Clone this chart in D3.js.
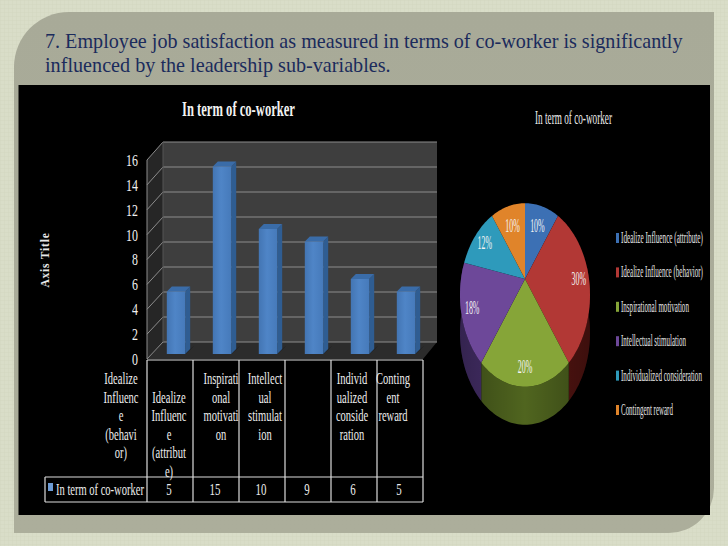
<!DOCTYPE html>
<html>
<head>
<meta charset="utf-8">
<script src="https://cdn.jsdelivr.net/npm/d3@7"></script>
<style>
html, body { margin: 0; padding: 0; background: #d8dcc6; }
svg { display: block; }
text { font-family: "Liberation Serif", serif; }
</style>
</head>
<body>
<script>
// chart data
var headingLines = [
    "7. Employee job satisfaction as measured in terms of co-worker is significantly",
    "influenced by the leadership sub-variables."
];
var barTitle = "In term of co-worker";
var axisTitle = "Axis Title";
var seriesName = "In term of co-worker";
var barValues = [5, 15, 10, 9, 6, 5];
var yTicks = [0, 2, 4, 6, 8, 10, 12, 14, 16];
// wrapped the way the table wraps them, 4th column has no label of its own
var columnLabels = [
    ["", "Idealize", "Influenc", "e", "(attribut", "e)"],
    ["Inspirati", "onal", "motivati", "on"],
    ["Intellect", "ual", "stimulat", "ion"],
    [],
    ["Individ", "ualized", "conside", "ration"],
    ["Conting", "ent", "reward"]
];
var strayLabel = ["Idealize", "Influenc", "e", "(behavi", "or)"];

var pieTitle = "In term of co-worker";
var pieNames = [
    "Idealize Influence (attribute)",
    "Idealize Influence (behavior)",
    "Inspirational motivation",
    "Intellectual stimulation",
    "Individualized consideration",
    "Contingent reward"
];
var pieValues = [10, 30, 20, 18, 12, 10];

// layout / colours
var pieColors = ["#3c70b4", "#b23835", "#86a538", "#6d4899", "#2e9abb", "#e0842a"];
var pieDark = ["#264a78", "#571512", "#50651f", "#4a3270", "#1d6a82", "#96581a"];
var columnShift = [-1, 5, 3, 0, -2, -7];
var legendWidths = [82, 82, 68, 65, 81, 52];

var width = 728, height = 546;
var svg = d3.select("body").append("svg")
    .attr("width", width)
    .attr("height", height);
var defs = svg.append("defs");

// the original picture was stretched, so text is narrowed with a real scale
function squeeze(sel, f) {
    sel.each(function () {
        var x = +this.getAttribute("x") || 0;
        var old = this.getAttribute("transform") || "";
        this.setAttribute("x", x / f);
        this.setAttribute("transform", old + " scale(" + f + ",1)");
    });
}
function fitWidth(sel, widthOf) {
    sel.each(function (d, i) {
        var f = widthOf(d, i) / this.getComputedTextLength();
        d3.select(this).call(squeeze, f);
    });
}

// slide background
var pat = defs.append("pattern").attr("id", "weave")
    .attr("width", 4).attr("height", 4).attr("patternUnits", "userSpaceOnUse");
pat.append("rect").attr("width", 4).attr("height", 4).attr("fill", "#d9ddc8");
pat.append("path").attr("d", "M0 0H4M0 0V4").attr("stroke", "#d3d7c1").attr("stroke-width", 1);
svg.append("rect").attr("width", width).attr("height", height).attr("fill", "url(#weave)");

var panelGrad = defs.append("linearGradient").attr("id", "panelGrad")
    .attr("x1", 0).attr("x2", 0).attr("y1", 0).attr("y2", 1);
panelGrad.append("stop").attr("offset", "0%").attr("stop-color", "#a8aa98");
panelGrad.append("stop").attr("offset", "100%").attr("stop-color", "#acae9b");
svg.append("path")
    .attr("d", "M14 533V67A55 55 0 0 1 69 12H714V488A45 45 0 0 1 669 533Z")
    .attr("fill", "url(#panelGrad)");

svg.selectAll(".heading")
    .data(headingLines)
    .enter().append("text")
    .attr("class", "heading")
    .attr("x", 45)
    .attr("y", function (d, i) { return 48 + i * 24; })
    .attr("font-size", 20.5)
    .attr("fill", "#1b2b5c")
    .text(function (d) { return d; })
    .call(fitWidth, function (d, i) { return i == 0 ? 638 : 346; });

svg.append("rect").attr("x", 18.5).attr("y", 85).attr("width", 691.5).attr("height", 430).attr("fill", "#000");

// ---------- bar chart ----------
var frontLeft = 147, frontRight = 423;
var depthX = 16, depthY = 17;
var wallBottom = 342, wallTop = 142;
var yScale = d3.scaleLinear().domain([0, 16]).range([wallBottom, wallTop]);
var yFront = d3.scaleLinear().domain([0, 16]).range([wallBottom + depthY, wallTop + depthY + 1]);
var xScale = d3.scaleBand().domain(d3.range(barValues.length))
    .range([frontLeft, frontRight]).paddingInner(0.6).paddingOuter(0.3);
var xCol = d3.scaleBand().domain(d3.range(barValues.length)).range([frontLeft, frontRight]);

var chart = svg.append("g");
var wallX0 = frontLeft + depthX, wallX1 = 437;

chart.append("rect").attr("x", wallX0).attr("y", wallTop)
    .attr("width", wallX1 - wallX0).attr("height", wallBottom - wallTop).attr("fill", "#3e3e3e");
chart.append("polygon")
    .attr("points", [[frontLeft, yFront(16)], [wallX0, wallTop], [wallX0, wallBottom], [frontLeft, yFront(0)]].join(" "))
    .attr("fill", "#262626");
chart.append("polygon")
    .attr("points", [[frontLeft, yFront(0)], [wallX0, wallBottom], [wallX1, wallBottom], [frontRight, yFront(0)]].join(" "))
    .attr("fill", "#2c2c2c");

chart.selectAll(".grid")
    .data(yTicks)
    .enter().append("path")
    .attr("class", "grid")
    .attr("d", function (d) {
        return "M" + frontLeft + " " + yFront(d) + "L" + wallX0 + " " + yScale(d) + "H" + wallX1;
    })
    .attr("fill", "none")
    .attr("stroke", "#8c8c8c")
    .attr("stroke-width", 1);
chart.append("line").attr("x1", frontLeft).attr("x2", frontLeft)
    .attr("y1", yFront(16)).attr("y2", yFront(0)).attr("stroke", "#8c8c8c");
chart.append("line").attr("x1", wallX0).attr("x2", wallX0)
    .attr("y1", wallTop).attr("y2", wallBottom).attr("stroke", "#555");

// bars stand a bit into the floor
var barLift = 12, barShift = 6, barDepth = 5;
var barGrad = defs.append("linearGradient").attr("id", "barGrad");
barGrad.append("stop").attr("offset", "0%").attr("stop-color", "#4375b3");
barGrad.append("stop").attr("offset", "45%").attr("stop-color", "#4f85c7");
barGrad.append("stop").attr("offset", "100%").attr("stop-color", "#467abA");

var bars = chart.selectAll(".bar")
    .data(barValues)
    .enter().append("g")
    .attr("class", "bar")
    .attr("transform", function (d, i) {
        return "translate(" + (xScale(i) + barShift) + "," + barLift + ")";
    });
var bw = xScale.bandwidth();
bars.append("polygon") // shadow on the floor
    .attr("points", function () {
        var b = wallBottom;
        return [[0, b], [bw, b], [bw + barDepth + 4, b - barDepth - 3], [bw + barDepth, b - barDepth]].join(" ");
    })
    .attr("fill", "#161616");
bars.append("polygon") // side
    .attr("points", function (d) {
        var t = yScale(d), b = wallBottom;
        return [[bw, t], [bw + barDepth, t - barDepth], [bw + barDepth, b - barDepth], [bw, b]].join(" ");
    })
    .attr("fill", "#2f5d92");
bars.append("polygon") // top
    .attr("points", function (d) {
        var t = yScale(d);
        return [[0, t], [barDepth, t - barDepth], [bw + barDepth, t - barDepth], [bw, t]].join(" ");
    })
    .attr("fill", "#3a6ca8");
bars.append("rect")
    .attr("y", function (d) { return yScale(d); })
    .attr("width", bw)
    .attr("height", function (d) { return wallBottom - yScale(d); })
    .attr("fill", "url(#barGrad)");

// y axis, labels only
var yAxis = svg.append("g")
    .attr("transform", "translate(" + frontLeft + ",0)")
    .call(d3.axisLeft(yFront).tickValues(yTicks).tickSize(0).tickPadding(9));
yAxis.select(".domain").remove();
yAxis.selectAll("text")
    .attr("font-size", 17)
    .attr("font-family", "Liberation Serif")
    .attr("fill", "#f2f2f2")
    .call(squeeze, 0.7);

svg.append("text")
    .attr("x", 238.5).attr("y", 116)
    .attr("text-anchor", "middle")
    .attr("font-size", 20).attr("font-weight", "bold").attr("fill", "#f2f2f2")
    .text(barTitle)
    .call(fitWidth, function () { return 113; });

svg.append("text")
    .attr("transform", "translate(49,260) rotate(-90)")
    .attr("text-anchor", "middle")
    .attr("font-size", 11.5).attr("font-weight", "bold").attr("fill", "#e8e8e8")
    .attr("letter-spacing", 0.8)
    .text(axisTitle);

// ---------- data table under the bars ----------
var tableTop = 360, tableMid = 477, tableBottom = 502, keyLeft = 45;
var table = svg.append("g").attr("stroke", "#dcdcdc").attr("stroke-width", 1.2);
table.selectAll(".col")
    .data(d3.range(barValues.length + 1))
    .enter().append("line")
    .attr("class", "col")
    .attr("x1", function (d) { return frontLeft + d * xCol.step(); })
    .attr("x2", function (d) { return frontLeft + d * xCol.step(); })
    .attr("y1", tableTop).attr("y2", tableBottom);
table.append("line").attr("x1", frontLeft).attr("x2", frontRight).attr("y1", tableTop).attr("y2", tableTop);
table.append("line").attr("x1", keyLeft).attr("x2", frontRight).attr("y1", tableMid).attr("y2", tableMid);
table.append("line").attr("x1", keyLeft).attr("x2", frontRight).attr("y1", tableBottom).attr("y2", tableBottom);
table.append("line").attr("x1", keyLeft).attr("x2", keyLeft).attr("y1", tableMid).attr("y2", tableBottom);

var lineGap = 18.6;
function drawLabelLines(lines, cx) {
    svg.append("g").selectAll("text")
        .data(lines)
        .enter().append("text")
        .attr("x", cx)
        .attr("y", function (d, i) { return 384 + i * lineGap; })
        .attr("text-anchor", "middle")
        .attr("font-size", 17)
        .attr("fill", "#ededed")
        .text(function (d) { return d; })
        .call(squeeze, 0.62);
}
columnLabels.forEach(function (lines, i) {
    drawLabelLines(lines, xCol(i) + xCol.bandwidth() / 2 + columnShift[i]);
});
drawLabelLines(strayLabel, 121);

svg.selectAll(".val")
    .data(barValues)
    .enter().append("text")
    .attr("class", "val")
    .attr("x", function (d, i) { return xCol(i) + xCol.bandwidth() / 2 - 1; })
    .attr("y", 495)
    .attr("text-anchor", "middle")
    .attr("font-size", 16)
    .attr("fill", "#ededed")
    .text(function (d) { return d; })
    .call(squeeze, 0.68);

svg.append("rect").attr("x", 48).attr("y", 483).attr("width", 5).attr("height", 8).attr("fill", "#6d9bd4");
svg.append("text")
    .attr("x", 56).attr("y", 495)
    .attr("font-size", 17).attr("fill", "#ededed")
    .text(seriesName)
    .call(fitWidth, function () { return 88; });

// ---------- tilted pie ----------
var pieX = 525, pieY = 279, pieK = 89, pieW = 64, tilt = 0.174, pieDepth = 38;
// unit circle -> screen, nearer part of the disc is drawn larger
function project(angle, r) {
    var u = Math.sin(angle) * r, v = -Math.cos(angle) * r;
    var s = 1 / (1 - tilt * v);
    return [pieX + u * pieW * s, pieY + v * pieK * s];
}
var slices = d3.pie().sort(null)(pieValues);
var line = d3.line();

function rim(a0, a1) {
    var n = Math.max(2, Math.ceil((a1 - a0) / 0.03));
    return d3.range(n + 1).map(function (i) { return project(a0 + (a1 - a0) * i / n, 1); });
}

var pie = svg.append("g");
// side wall, only the lower half of the rim shows
slices.forEach(function (s, i) {
    var frontStart = Math.PI / 2 - 0.15, frontEnd = Math.PI * 1.5 + 0.15;
    var a0 = Math.max(s.startAngle, frontStart), a1 = Math.min(s.endAngle, frontEnd);
    if (a1 <= a0) return;
    var top = rim(a0, a1);
    var bottom = top.slice().reverse().map(function (p) { return [p[0], p[1] + pieDepth]; });
    pie.append("path")
        .attr("d", line(top.concat(bottom)) + "Z")
        .attr("fill", pieDark[i]);
});
var sideShade = defs.append("linearGradient").attr("id", "sideShade");
sideShade.append("stop").attr("offset", "0%").attr("stop-color", "#000").attr("stop-opacity", 0.3);
sideShade.append("stop").attr("offset", "50%").attr("stop-color", "#000").attr("stop-opacity", 0);
sideShade.append("stop").attr("offset", "100%").attr("stop-color", "#000").attr("stop-opacity", 0.3);
var fullFront = rim(Math.PI / 2 - 0.15, Math.PI * 1.5 + 0.15);
pie.append("path")
    .attr("d", line(fullFront.concat(fullFront.slice().reverse().map(function (p) {
        return [p[0], p[1] + pieDepth];
    }))) + "Z")
    .attr("fill", "url(#sideShade)");

pie.selectAll(".slice")
    .data(slices)
    .enter().append("path")
    .attr("class", "slice")
    .attr("d", function (s) {
        return line([project(0, 0)].concat(rim(s.startAngle, s.endAngle))) + "Z";
    })
    .attr("fill", function (s, i) { return pieColors[i]; });

// percent labels, small slices keep theirs closer in
pie.selectAll(".pct")
    .data(slices)
    .enter().append("text")
    .attr("class", "pct")
    .attr("transform", function (s) {
        var r = s.value <= 10 ? 0.7 : (s.value == 12 ? 0.8 : 0.84);
        var p = project((s.startAngle + s.endAngle) / 2, r);
        return "translate(" + p[0] + "," + (p[1] + 6) + ")";
    })
    .attr("text-anchor", "middle")
    .attr("font-size", 18)
    .attr("fill", "#f4f4f4")
    .text(function (s) { return s.value + "%"; })
    .call(squeeze, 0.44);

svg.append("text")
    .attr("x", 573.5).attr("y", 124)
    .attr("text-anchor", "middle")
    .attr("font-size", 19).attr("fill", "#ececec")
    .text(pieTitle)
    .call(fitWidth, function () { return 77; });

// legend
var legendY = d3.scalePoint().domain(d3.range(pieNames.length)).range([238, 410]);
var legend = svg.selectAll(".leg")
    .data(pieNames)
    .enter().append("g")
    .attr("class", "leg")
    .attr("transform", function (d, i) { return "translate(616," + legendY(i) + ")"; });
legend.append("rect")
    .attr("y", -5).attr("width", 3).attr("height", 10)
    .attr("fill", function (d, i) { return pieColors[i]; });
legend.append("text")
    .attr("x", 5).attr("y", 5)
    .attr("font-size", 17).attr("fill", "#e4e4e4")
    .text(function (d) { return d; })
    .call(fitWidth, function (d, i) { return legendWidths[i]; });
</script>
</body>
</html>
